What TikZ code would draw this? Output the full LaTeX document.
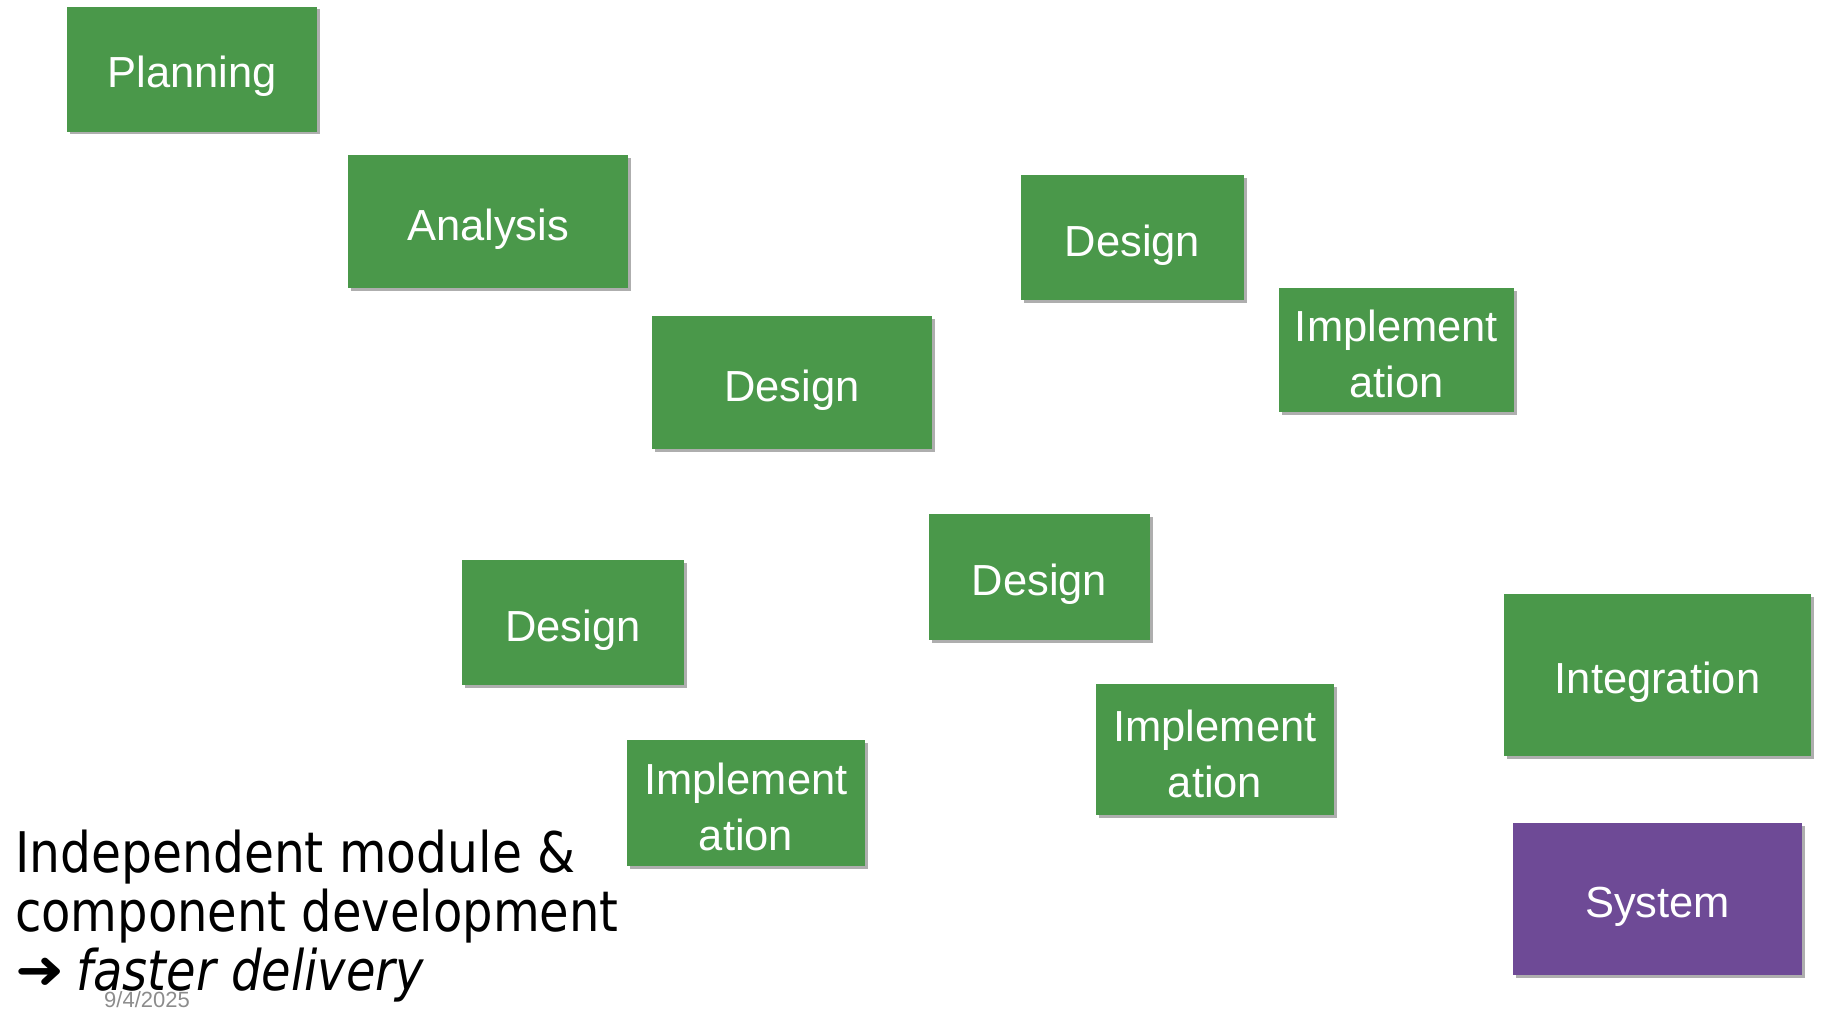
\documentclass[tikz,border=0pt]{standalone}
\usepackage{fontspec}
\setmainfont{Liberation Sans}
\newfontfamily\verd{DejaVu Sans}
\usetikzlibrary{shadows}
\definecolor{boxgreen}{RGB}{74,152,74}
\definecolor{boxpurple}{RGB}{110,74,150}
\definecolor{dategray}{RGB}{140,140,140}
\tikzset{
  card/.style={fill=boxgreen, draw=none, text=white, align=center, inner sep=0pt,
    font=\fontsize{43.5}{56}\selectfont, text height=46pt, text depth=9pt,
    drop shadow={shadow xshift=2.5pt, shadow yshift=-2.5pt, opacity=0.45, fill=black!70}},
  twocard/.style={card, text height=95pt, text depth=0pt},
  purplecard/.style={card, fill=boxpurple},
  bigtext/.style={anchor=base west, inner sep=0pt, text=black, font=\verd\fontsize{56}{60}\selectfont},
}
\begin{document}
\begin{tikzpicture}[x=1pt,y=-1pt]
\useasboundingbox (0,0) rectangle (1830,1022);
\node[card, minimum width=250pt, minimum height=125pt] (plan) at (192,69.5) {Planning};
\node[card, minimum width=280pt, minimum height=133pt] (ana) at (488,221.5) {Analysis};
\node[card, minimum width=223pt, minimum height=125pt] (desA) at (1132.5,237.5) {Design};
\node[twocard, minimum width=235pt, minimum height=124pt] (impA) at (1396.5,350) {Implement\\ation};
\node[card, minimum width=280pt, minimum height=133pt] (desB) at (792,382.5) {Design};
\node[card, minimum width=221pt, minimum height=126pt] (desC) at (1039.5,577) {Design};
\node[card, minimum width=222pt, minimum height=125pt] (desD) at (573,622.5) {Design};
\node[twocard, minimum width=238pt, minimum height=126pt] (impB) at (746,803) {Implement\\ation};
\node[twocard, minimum width=238pt, minimum height=131pt] (impC) at (1215,749.5) {Implement\\ation};
\node[card, minimum width=307pt, minimum height=162pt] (integ) at (1657.5,675) {Integration};
\node[purplecard, minimum width=289pt, minimum height=152pt] (sys) at (1657.5,899) {System};
\node[bigtext] (t1) at (15,872) {\scalebox{0.87}[1]{Independent module \&}};
\node[bigtext] (t2) at (15,931) {\scalebox{0.857}[1]{component development}};
\node[bigtext] (t3) at (15,990) {\raisebox{2pt}{\scalebox{1.05}[0.95]{➜}}\hspace{12pt}\scalebox{0.857}[1]{\itshape faster delivery}};
\node[inner sep=0pt, text=dategray, font=\fontsize{22}{24}\selectfont] (date) at (147,1000) {9/4/2025};
\end{tikzpicture}
\end{document}
